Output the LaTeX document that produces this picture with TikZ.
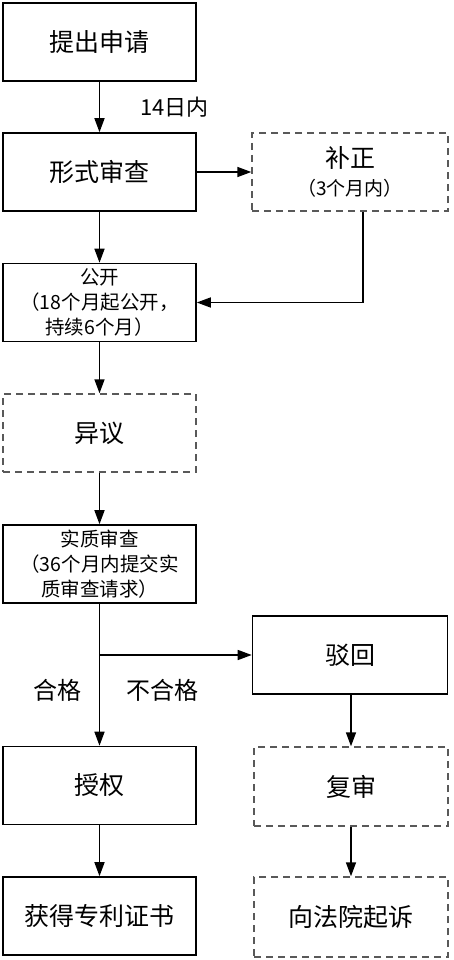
\documentclass[tikz,border=0pt]{standalone}
\usepackage{fontspec}
\setmainfont{Noto Sans CJK SC}
\usetikzlibrary{arrows.meta}
\tikzset{
  stage/.style={draw=black, line width=1.6pt, minimum width=193pt, minimum height=78pt,
    align=center, inner sep=0pt, font=\fontsize{25}{30}\selectfont},
  optstage/.style={stage, draw=black!65, line width=1.4pt, dash pattern=on 7pt off 5pt},
  small/.style={font=\fontsize{19.5}{25}\selectfont},
  flow/.style={draw=black, line width=1.5pt, -{Triangle[length=14pt,width=10pt]}},
  note/.style={font=\fontsize{24}{28}\selectfont, inner sep=0pt}
}
\begin{document}
\begin{tikzpicture}
\useasboundingbox (0pt,0pt) rectangle (454pt,-960pt);
\fill[white] (0pt,0pt) rectangle (454pt,-960pt);
% left column
\node[stage] (apply) at (99.5pt,-42pt) {提出申请};
\node[stage] (formal) at (99.5pt,-172pt) {形式审查};
\node[stage, small] (publish) at (99.5pt,-302.5pt) {公开\\（18个月起公开，\\持续6个月）};
\node[optstage] (oppose) at (99.5pt,-433pt) {异议};
\node[stage, small] (exam) at (99.5pt,-564pt) {实质审查\\（36个月内提交实\\质审查请求）};
\node[stage] (grant) at (99.5pt,-785.5pt) {授权};
\node[stage] (cert) at (99.5pt,-916pt) {获得专利证书};
% right column
\node[optstage, minimum width=196pt] (amend) at (350pt,-172pt) {补正\\[-2pt]{\fontsize{19}{24}\selectfont（3个月内）}};
\node[stage, minimum width=195pt] (reject) at (350pt,-655pt) {驳回};
\node[optstage, minimum width=194pt, minimum height=79pt] (review) at (351pt,-786.5pt) {复审};
\node[optstage, minimum width=194pt, minimum height=80pt] (sue) at (351pt,-917pt) {向法院起诉};
% connectors
\draw[flow] (apply) -- (formal) node[note, font=\fontsize{22}{26}\selectfont, midway, right=40pt] {14日内};
\draw[flow] (formal) -- (amend);
\draw[flow] (formal) -- (publish);
\draw[flow] ([xshift=13pt]amend.south) |- (publish.east);
\draw[flow] (publish) -- (oppose);
\draw[flow] (oppose) -- (exam);
\draw[flow] (exam) -- (grant);
\coordinate (split) at (99.5pt,-655pt);
\draw[flow] (split) -- (reject.west);
\node[note] (pass) at (57pt,-690pt) {合格};
\node[note] (fail) at (162pt,-690pt) {不合格};
\draw[flow] (grant) -- (cert);
\draw[flow] ([xshift=1pt]reject.south) -- (review.north);
\draw[flow] (review) -- (sue);
\end{tikzpicture}
\end{document}
